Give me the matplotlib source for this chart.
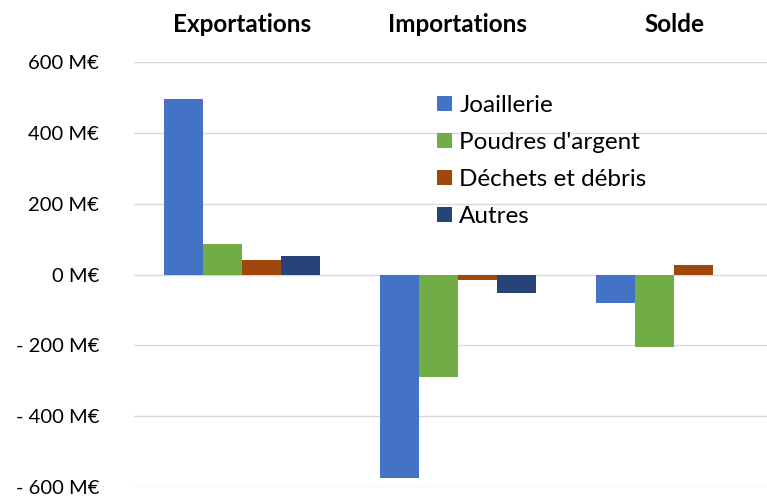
import numpy as np
import matplotlib.pyplot as plt

categories = ["Exportations", "Importations", "Solde"]
series = ["Joaillerie", "Poudres d'argent", "Déchets et débris", "Autres"]
joaillerie = [495, -575, -80]
poudres = [85, -290, -205]
dechets = [42, -15, 27]
autres = [51, -52, -1]
colors = ["#4472C4", "#70AD47", "#9E480E", "#264478"]
yticks = [-600, -400, -200, 0, 200, 400, 600]

plt.rcParams['font.family'] = ['Lato', 'DejaVu Sans']

fig = plt.figure(figsize=(7.67, 4.98), dpi=100)
ax = fig.add_axes([134/767, 11/498, 633/767, 425/498])

x = np.arange(len(categories))
w = 0.18
values = [joaillerie, poudres, dechets, autres]
for i, (name, vals, c) in enumerate(zip(series, values, colors)):
    ax.bar(x + (i - 1.5) * w, vals, w, color=c, label=name, zorder=3)

ax.set_xlim(-0.5, -0.5 + 633/216)
ax.set_ylim(-600, 600)
ax.set_yticks(yticks)
ax.set_yticklabels([("- " if v < 0 else "") + f"{abs(v)} M€" for v in yticks])
ax.tick_params(axis='y', length=0, labelsize=14.5, pad=25)
ax.set_xticks([])
ax.grid(axis='y', color='#d9d9d9', linewidth=1, zorder=0)
for s in ax.spines.values():
    s.set_visible(False)

# category titles above the plot
for xi, cat in zip(x, categories):
    fx = (134 + (xi + 0.5) * 216) / 767
    fig.text(fx, 1 - 25/498, cat, ha='center', va='center', fontsize=17.5, fontweight='bold')

fig.legend(loc='upper left', bbox_to_anchor=(437/767, 1 - 95/498), frameon=False, fontsize=17.5,
           handlelength=0.62, handleheight=0.62, handletextpad=0.3, labelspacing=0.66,
           borderpad=0, borderaxespad=0)

fig.savefig("out.png", dpi=100)
